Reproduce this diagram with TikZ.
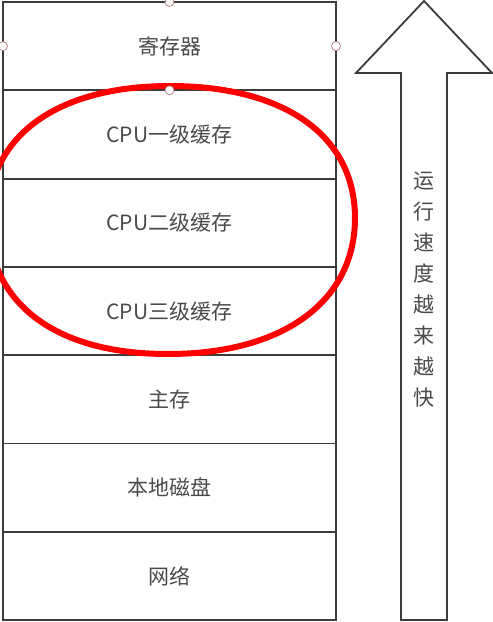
\documentclass[tikz,border=0pt]{standalone}
\usepackage{fontspec}
\setmainfont{Noto Sans CJK SC}
\usepackage{tikz}
\usetikzlibrary{positioning}
\usepackage{xcolor}
\definecolor{linegray}{HTML}{3C3C3C}
\definecolor{textgray}{HTML}{4A4A4A}
\definecolor{handlepink}{HTML}{B07A7A}

\begin{document}
\begin{tikzpicture}[x=1pt, y=-1pt,
      every node/.style={font=\fontsize{21}{25}\selectfont, text=textgray},
      levelbox/.style={
        rectangle, draw=linegray, line width=1.8pt, outer sep=0pt,
        minimum width=333pt, minimum height=88.3pt,
        align=center
      },
      handle/.style={
        circle, draw=handlepink, fill=white, line width=0.7pt,
        inner sep=0pt, minimum size=9pt
      },
      bigarrow/.style={draw=linegray, line width=1.8pt, fill=white, line join=miter},
      mark ring/.style={draw=red, line width=6pt}
    ]
    \useasboundingbox (0,0) rectangle (493,622);

    % ===== Left: the storage levels, fastest on top =====
    \node[levelbox, anchor=north] (reg) at (169.5, 2) {寄存器};
    \node[levelbox, below=0pt of reg] (lone) {CPU一级缓存};
    \node[levelbox, below=0pt of lone] (ltwo) {CPU二级缓存};
    \node[levelbox, below=0pt of ltwo] (lthree) {CPU三级缓存};
    \node[levelbox, below=0pt of lthree] (mem) {主存};
    \node[levelbox, below=0pt of mem] (disk) {本地磁盘};
    \node[levelbox, below=0pt of disk] (net) {网络};

    % ===== Red ring round the three cache levels =====
    \draw[mark ring] (170,86) .. controls (285,86) and (355,136) .. (355,218)
      .. controls (355,300) and (285,354) .. (168,354)
      .. controls (51,354) and (-12,300) .. (-12,218)
      .. controls (-12,136) and (57,86) .. (170,86) -- cycle;

    % ===== Selection handles on the top box =====
    \node[handle] (hn) at (reg.north) {};
    \node[handle] (hw) at (reg.west) {};
    \node[handle] (he) at (reg.east) {};
    \node[handle] (hs) at (reg.south) {};

    % ===== Right: hollow arrow pointing up =====
    \draw[bigarrow] (424,1) -- (492,73) -- (447,73) -- (447,620)
      -- (401,620) -- (401,73) -- (356,73) -- cycle;
    \node[align=center, font=\fontsize{21}{31}\selectfont] (speed) at (424, 290)
      {运\\行\\速\\度\\越\\来\\越\\快};
  \end{tikzpicture}
\end{document}
